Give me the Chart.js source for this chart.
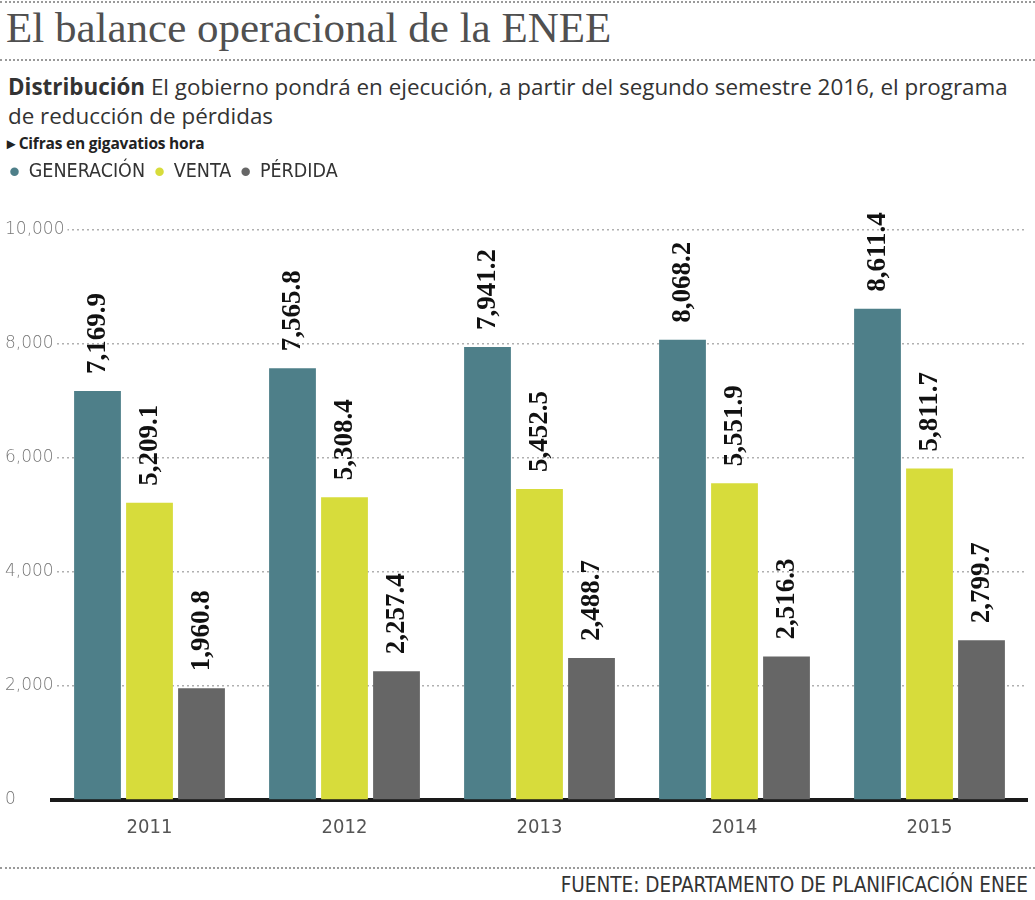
<!DOCTYPE html>
<html lang="es">
<head>
<meta charset="utf-8">
<title>El balance operacional de la ENEE</title>
<script src="https://cdn.jsdelivr.net/npm/chart.js@4/dist/chart.umd.min.js"></script>
<style>
  body { margin: 0; background: #fff; }
  .hoja { position: relative; width: 1035px; height: 900px; overflow: hidden; }
  .linea { position: absolute; left: 0; width: 1035px; border-top: 2px dotted #9a9a9a; }
  #titulo { position: absolute; left: 6px; top: 3px; font: 43px "Liberation Serif", serif; color: #505050; white-space: nowrap; }
  #bajada { position: absolute; left: 8px; top: 72px; font: 22.4px "Open Sans", sans-serif; line-height: 29px; color: #333; white-space: nowrap; }
  #nota { position: absolute; left: 7px; top: 132px; font: bold 15.5px "Open Sans", sans-serif; color: #222; letter-spacing: -0.2px; }
  #caja { position: absolute; left: 0; top: 152px; width: 1035px; height: 700px; }
  #fuente { position: absolute; right: 7px; top: 873px; font: 20.5px "Liberation Sans Narrow", "DejaVu Sans Condensed", sans-serif; color: #333; }
</style>
</head>
<body>
<div class="hoja">
  <div class="linea" style="top:1px"></div>
  <div id="titulo">El balance operacional de la ENEE</div>
  <div class="linea" style="top:59px"></div>
  <div id="bajada"><b>Distribución</b> El gobierno pondrá en ejecución, a partir del segundo semestre 2016, el programa<br>de reducción de pérdidas</div>
  <div id="nota">▸ Cifras en gigavatios hora</div>
  <div id="caja"><canvas id="grafico"></canvas></div>
  <div class="linea" style="top:867px"></div>
  <div id="fuente">FUENTE: DEPARTAMENTO DE PLANIFICACIÓN ENEE</div>
</div>

<script>
// datos (gigavatios hora)
const anios = ["2011", "2012", "2013", "2014", "2015"];
const generacion = [7169.9, 7565.8, 7941.2, 8068.2, 8611.4];
const venta = [5209.1, 5308.4, 5452.5, 5551.9, 5811.7];
const perdida = [1960.8, 2257.4, 2488.7, 2516.3, 2799.7];
const series = ["GENERACIÓN", "VENTA", "PÉRDIDA"];
const ticksY = [0, 2000, 4000, 6000, 8000, 10000];

const colores = ["#4e7f89", "#d7dc3b", "#666666"];
const fuenteAngosta = '"Liberation Sans Narrow", "DejaVu Sans Condensed", sans-serif';

function formato(v) {
  return v.toLocaleString("en-US", { minimumFractionDigits: 1, maximumFractionDigits: 1 });
}

// etiquetas verticales encima de cada barra
const etiquetas = {
  id: "etiquetas",
  afterDatasetsDraw(chart) {
    const ctx = chart.ctx;
    chart.data.datasets.forEach((ds, i) => {
      chart.getDatasetMeta(i).data.forEach((barra, j) => {
        ctx.save();
        ctx.translate(barra.x + 1, barra.y - 17);
        ctx.rotate(-Math.PI / 2);
        ctx.font = 'bold 27px "Liberation Serif", serif';
        ctx.fillStyle = "#111";
        ctx.textAlign = "left";
        ctx.textBaseline = "middle";
        ctx.fillText(formato(ds.data[j]), 0, 0);
        ctx.restore();
      });
    });
  }
};

// espacio entre leyenda y grafico
const margenLeyenda = {
  id: "margenLeyenda",
  beforeInit(chart) {
    const fit = chart.legend.fit;
    chart.legend.fit = function () {
      fit.bind(chart.legend)();
      this.height += 38;
    };
  }
};

new Chart(document.getElementById("grafico"), {
  type: "bar",
  data: {
    labels: anios,
    datasets: [
      { label: series[0], data: generacion, backgroundColor: colores[0] },
      { label: series[1], data: venta, backgroundColor: colores[1] },
      { label: series[2], data: perdida, backgroundColor: colores[2] }
    ]
  },
  options: {
    responsive: true,
    maintainAspectRatio: false,
    animation: false,
    layout: { padding: { left: 0, right: 8, top: 0, bottom: 0 } },
    plugins: {
      tooltip: { enabled: false },
      legend: {
        position: "top",
        align: "start",
        labels: {
          usePointStyle: true,
          pointStyle: "circle",
          boxWidth: 9,
          boxHeight: 6,
          padding: 10,
          color: "#333",
          font: { family: fuenteAngosta, size: 19.5 }
        }
      }
    },
    scales: {
      x: {
        grid: { display: false },
        border: { color: "#1a1a1a", width: 4 },
        ticks: { color: "#555", padding: 8, font: { family: fuenteAngosta, size: 20 } },
        afterFit(scale) { scale.height = 52; }
      },
      y: {
        min: 0,
        max: 10000,
        border: { display: false, dash: [2, 3] },
        grid: { color: "#b0b0b0", lineWidth: 1.5, drawTicks: false },
        ticks: {
          mirror: true,
          padding: -47,
          color: "#777",
          showLabelBackdrop: true,
          backdropColor: "#fff",
          backdropPadding: { left: 0, right: 3, top: 0, bottom: 0 },
          font: { family: '"DejaVu Sans", sans-serif', size: 17, weight: "200" },
          callback: (v) => v.toLocaleString("en-US")
        },
        afterBuildTicks(scale) { scale.ticks = ticksY.map(v => ({ value: v })); },
        afterFit(scale) { scale.width = 52; }
      }
    }
  },
  plugins: [etiquetas, margenLeyenda]
});
</script>
</body>
</html>
